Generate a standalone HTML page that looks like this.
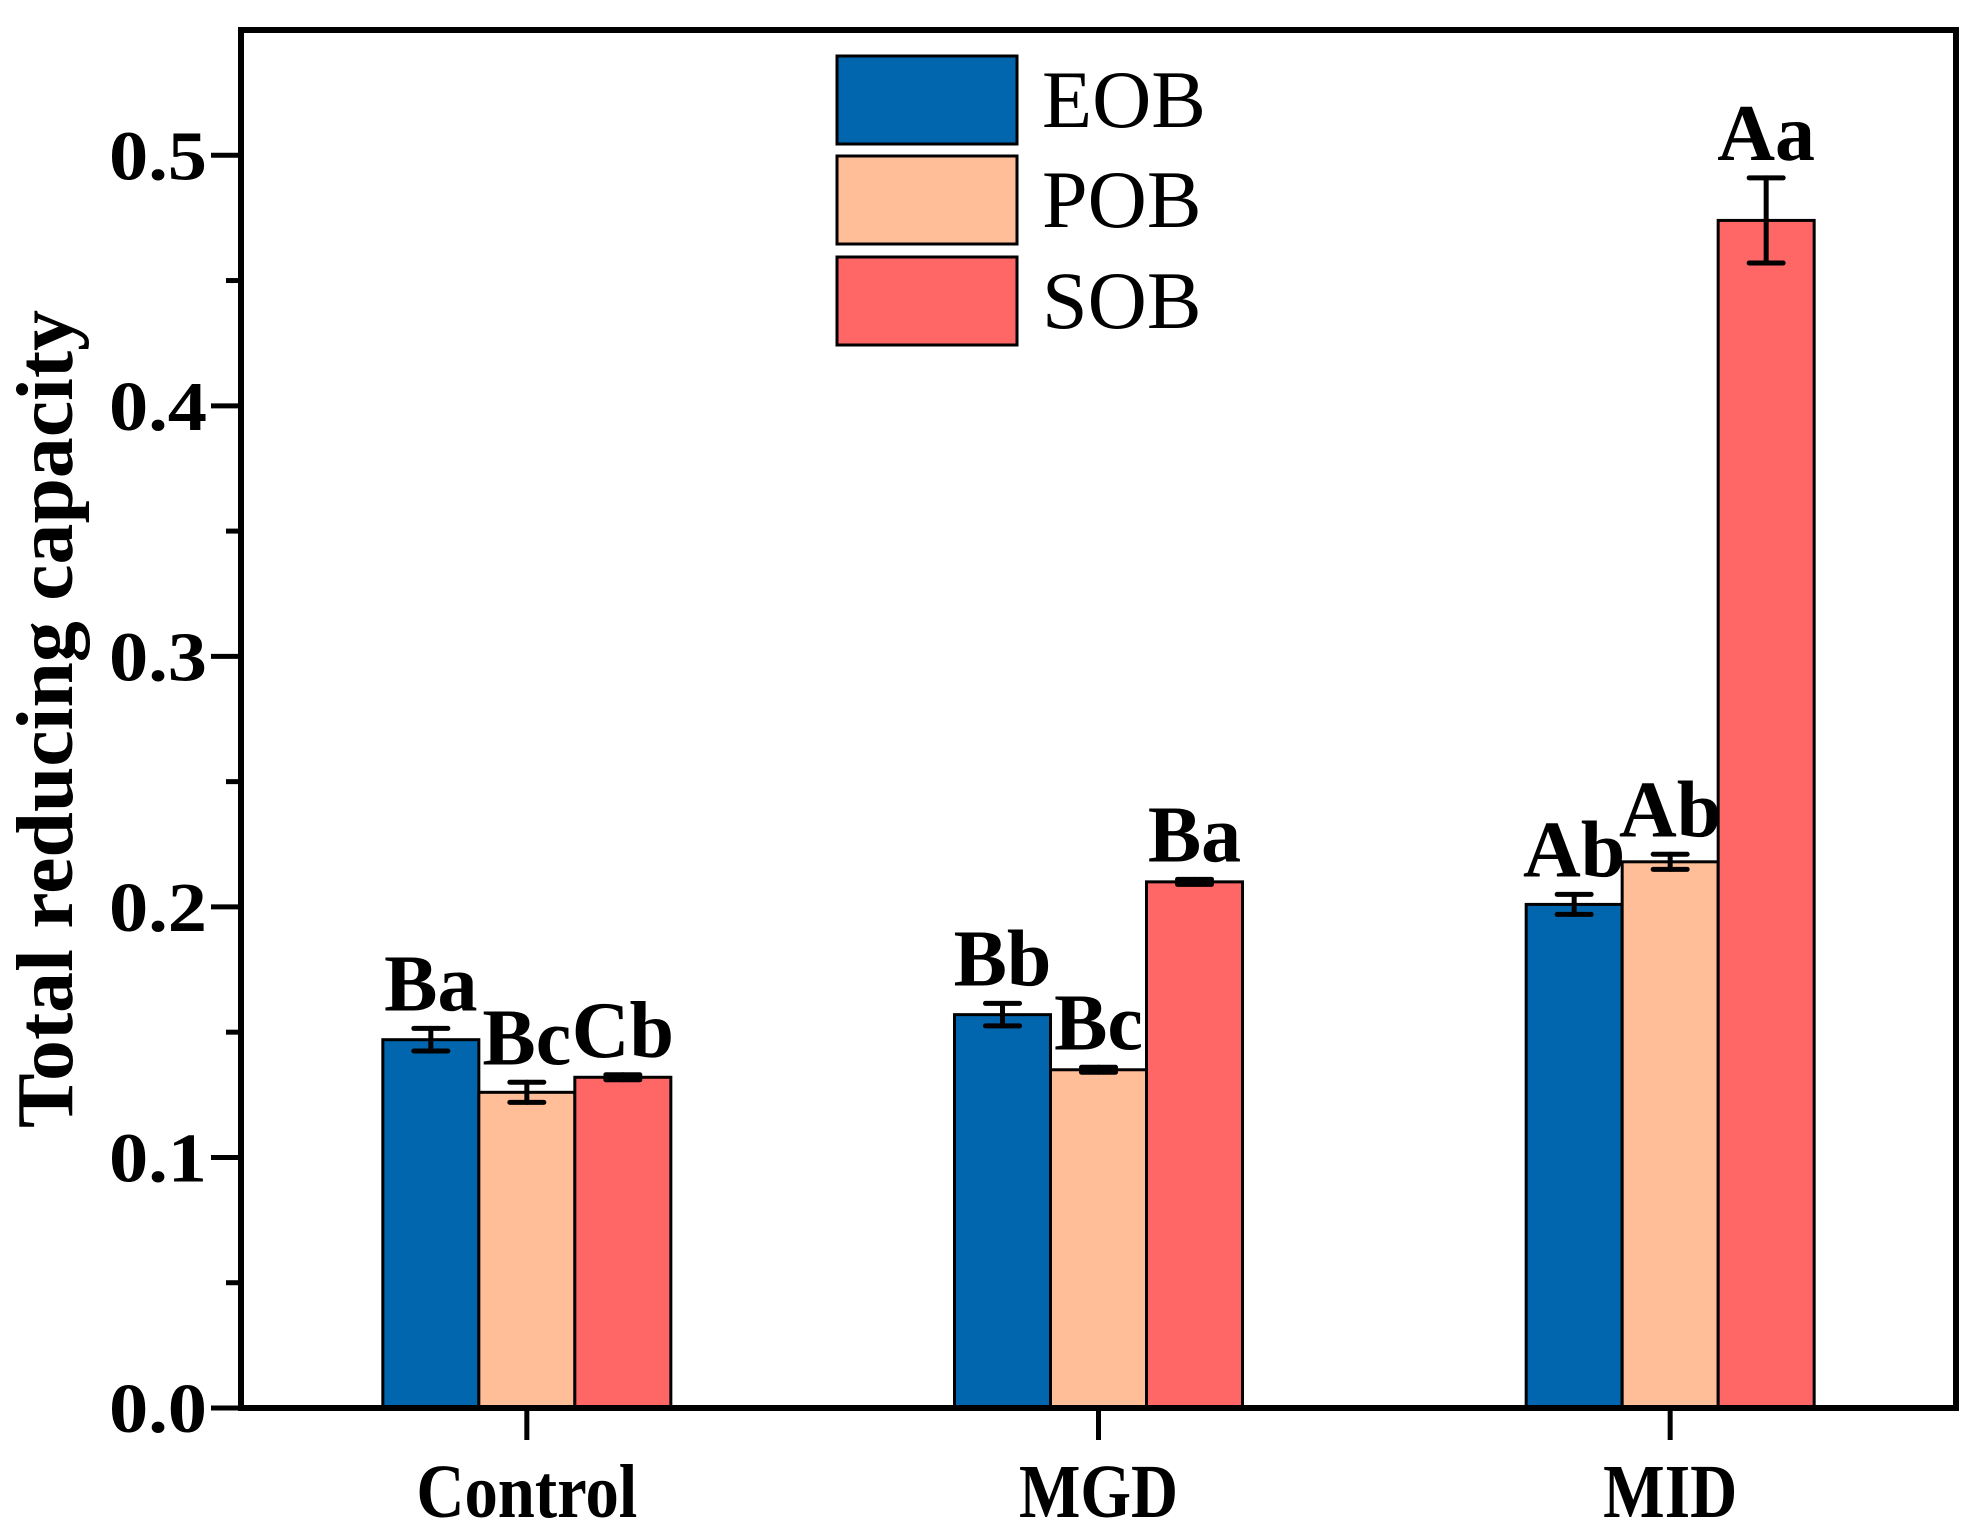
<!DOCTYPE html>
<html><head><meta charset="utf-8"><style>
html,body{margin:0;padding:0;background:#fff}
svg{display:block}
text{font-family:"Liberation Serif",serif}
</style></head><body>
<svg id="chart" width="1983" height="1538" viewBox="0 0 1983 1538"></svg>
<script>
const categories = ["Control", "MGD", "MID"];
const seriesNames = ["EOB", "POB", "SOB"];
const eobValues = [0.147, 0.157, 0.201];
const pobValues = [0.126, 0.135, 0.218];
const sobValues = [0.132, 0.210, 0.474];
const eobErrors = [0.0045, 0.0045, 0.004];
const pobErrors = [0.004, 0.001, 0.003];
const sobErrors = [0.001, 0.001, 0.017];
const eobLetters = ["Ba", "Bb", "Ab"];
const pobLetters = ["Bc", "Bc", "Ab"];
const sobLetters = ["Cb", "Ba", "Aa"];
const yTicks = [0.0, 0.1, 0.2, 0.3, 0.4, 0.5];
const yTickLabels = ["0.0", "0.1", "0.2", "0.3", "0.4", "0.5"];
const yMinorTicks = [0.05, 0.15, 0.25, 0.35, 0.45];

const NS = "http://www.w3.org/2000/svg";
const svg = document.getElementById("chart");
const L = 241, R = 1956, T = 30, B = 1408, yMax = 0.55;
const colors = ["#0266ae", "#ffbd98", "#ff6666"];
const values = [eobValues, pobValues, sobValues];
const errors = [eobErrors, pobErrors, sobErrors];
const letters = [eobLetters, pobLetters, sobLetters];
const catWidths = [221, 159, 134];
const band = (R - L) / categories.length;
const barW = 96;
function y(v){ return B - v / yMax * (B - T); }
function xc(i){ return L + band * (i + 0.5); }
function mk(tag, attrs, parent){
  const e = document.createElementNS(NS, tag);
  for (const k in attrs) e.setAttribute(k, attrs[k]);
  (parent || svg).appendChild(e);
  return e;
}

for (let s = 0; s < 3; s++) {
  for (let i = 0; i < categories.length; i++) {
    const cx = xc(i) + (s - 1) * barW;
    const v = values[s][i], e = errors[s][i];
    const r = mk("rect", {x: cx - barW/2, y: y(v), width: barW, height: B - y(v), fill: colors[s], stroke: "#000", "stroke-width": 3});
    
    
    const g = mk("g", {stroke: "#000", "stroke-width": 5, "stroke-linecap": "round"});
    
    
    mk("line", {x1: cx, x2: cx, y1: y(v + e), y2: y(v - e)}, g);
    mk("line", {x1: cx - 17, x2: cx + 17, y1: y(v + e), y2: y(v + e)}, g);
    mk("line", {x1: cx - 17, x2: cx + 17, y1: y(v - e), y2: y(v - e)}, g);
    const t = mk("text", {x: cx, y: y(v + e) - 18, "text-anchor": "middle", "font-size": 80, "font-weight": "bold"});
    t.textContent = letters[s][i];
    
    
  }
}

const frame = mk("rect", {x: L, y: T, width: R - L, height: B - T, fill: "none", stroke: "#000", "stroke-width": 6});



for (let k = 0; k < yTicks.length; k++) {
  const ty = y(yTicks[k]);
  const tl = mk("line", {x1: L - 30, x2: L, y1: ty, y2: ty, stroke: "#000", "stroke-width": 5});
  
  
  const tx = mk("text", {x: 207, y: ty + 24, "text-anchor": "end", "font-size": 70, "font-weight": "bold", textLength: 98, lengthAdjust: "spacingAndGlyphs"});
  tx.textContent = yTickLabels[k];
  
  
}
for (const m of yMinorTicks) {
  const my = y(m);
  const ml = mk("line", {x1: L - 15, x2: L, y1: my, y2: my, stroke: "#000", "stroke-width": 5});
  
  
}
for (let i = 0; i < categories.length; i++) {
  const xl = mk("line", {x1: xc(i), x2: xc(i), y1: B, y2: B + 32, stroke: "#000", "stroke-width": 5});
  
  
  const t = mk("text", {x: xc(i), y: 1517, "text-anchor": "middle", "font-size": 76, "font-weight": "bold", textLength: catWidths[i], lengthAdjust: "spacingAndGlyphs"});
  t.textContent = categories[i];
  
  
}
const yt = mk("text", {x: 0, y: 0, transform: "translate(72,719) rotate(-90)", "text-anchor": "middle", "font-size": 80, "font-weight": "bold", textLength: 818, lengthAdjust: "spacingAndGlyphs"});
yt.textContent = "Total reducing capacity";



const legendTops = [56, 156, 257];
for (let s = 0; s < 3; s++) {
  const lg = mk("g", {});
  
  
  mk("rect", {x: 837, y: legendTops[s], width: 180, height: 88, fill: colors[s], stroke: "#000", "stroke-width": 3}, lg);
  const t = mk("text", {x: 1042, y: legendTops[s] + 71, "font-size": 82}, lg);
  t.textContent = seriesNames[s];
}
</script>
</body></html>
